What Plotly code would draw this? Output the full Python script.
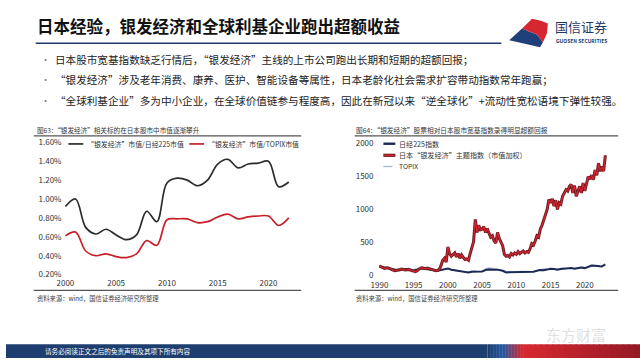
import plotly.graph_objects as go

# ---------------- data ----------------
left_years = list(range(2000, 2023))
silver_vs_n225 = [0.92, 1.00, 0.70, 0.63, 0.68, 0.62, 0.57, 0.62, 0.87, 0.76, 1.17, 1.22, 1.20,
                  1.14, 1.20, 1.37, 1.42, 1.33, 1.37, 1.38, 1.40, 1.13, 1.18]
silver_vs_topix = [0.61, 0.65, 0.45, 0.40, 0.42, 0.39, 0.38, 0.42, 0.56, 0.51, 0.78, 0.79, 0.79,
                   0.75, 0.76, 0.81, 0.84, 0.79, 0.81, 0.82, 0.82, 0.72, 0.80]
left_xticks = [2000, 2005, 2010, 2015, 2020]
left_yticks = [0.2, 0.4, 0.6, 0.8, 1.0, 1.2, 1.4, 1.6]

# right chart: quarterly theme index, half-yearly broad indices
theme_q = [140, 125, 120, 105, 110, 115, 100, 95, 80, 70, 75, 70, 85, 95, 85, 80,
           85, 90, 80, 75, 65, 55, 70, 95, 110, 115, 105, 100, 110, 100, 95, 80,
           75, 70, 75, 90, 150, 230, 260, 200, 430, 330, 290, 320, 340, 280, 330, 260,
           310, 270, 240, 250, 230, 330, 440, 510, 850, 650, 760, 690, 700, 740, 650, 710,
           640, 580, 600, 520, 490, 650, 560, 500, 450, 320, 290, 300, 280, 330, 310, 340,
           320, 360, 330, 350, 370, 340, 360, 350, 400, 480, 460, 520, 600, 580, 700, 760,
           830, 900, 1000, 1150, 1100, 1160, 1050, 1140, 1000, 1100, 1080, 1200,
           1240, 1300, 1280, 1350, 1380, 1250, 1360, 1200, 1280, 1350, 1250, 1400,
           1280, 1420, 1500, 1460, 1520, 1450, 1600, 1520, 1700, 1580, 1650, 1580, 1820]
theme_x = [1990 + i * 0.25 for i in range(len(theme_q))]

n225_h = [145, 120, 115, 105, 85, 80, 90, 95, 95, 90, 75, 85, 105, 100, 95, 85,
          80, 70, 80, 95, 105, 85, 75, 65, 65, 55, 45, 55, 60, 58, 60, 80,
          90, 85, 90, 80, 70, 45, 45, 55, 55, 50, 52, 45, 50, 55, 70, 80,
          78, 90, 100, 95, 85, 95, 100, 115, 110, 100, 105, 120, 110, 135,
          150, 145, 140, 135, 165]
topix_h = [150, 125, 120, 110, 85, 80, 95, 100, 105, 100, 85, 95, 110, 100, 95, 85,
           80, 70, 80, 95, 100, 85, 80, 70, 65, 55, 50, 62, 70, 72, 75, 100,
           110, 105, 110, 95, 80, 55, 55, 60, 62, 58, 58, 50, 55, 60, 80, 85,
           85, 100, 110, 105, 95, 105, 110, 125, 120, 105, 110, 125, 110, 135,
           150, 145, 145, 140, 160]
half_x = [1990 + i * 0.5 for i in range(len(n225_h))]
right_xticks = [1990, 1995, 2000, 2005, 2010, 2015, 2020]
right_yticks = [0, 500, 1000, 1500, 2000]

W, H = 640, 361
FONT = "Noto Sans CJK SC"


def px(x):
    return x / W


def py(y):
    return 1 - y / H


fig = go.Figure()

# left chart
fig.add_trace(go.Scatter(x=left_years, y=silver_vs_n225, mode="lines", line=dict(color="#2b2b2b", width=1.7, shape="spline"),
                         xaxis="x", yaxis="y", showlegend=False))
fig.add_trace(go.Scatter(x=left_years, y=silver_vs_topix, mode="lines", line=dict(color="#c8202a", width=1.7, shape="spline"),
                         xaxis="x", yaxis="y", showlegend=False))

# right chart
fig.add_trace(go.Scatter(x=half_x, y=topix_h, mode="lines", line=dict(color="#a9b9d6", width=1.5, dash="dash"),
                         xaxis="x2", yaxis="y2", showlegend=False))
fig.add_trace(go.Scatter(x=half_x, y=n225_h, mode="lines", line=dict(color="#1b2a55", width=2),
                         xaxis="x2", yaxis="y2", showlegend=False))
fig.add_trace(go.Scatter(x=theme_x, y=theme_q, mode="lines", line=dict(color="#6e1a22", width=3.0),
                         xaxis="x2", yaxis="y2", showlegend=False))
fig.add_trace(go.Scatter(x=theme_x, y=theme_q, mode="lines", line=dict(color="#d3262f", width=1.2),
                         xaxis="x2", yaxis="y2", showlegend=False))

tickfont = dict(family=FONT, size=8, color="#333")
axcommon = dict(showgrid=False, zeroline=False, showline=False, ticks="", tickfont=tickfont)

fig.update_layout(
    width=W, height=H, margin=dict(l=0, r=0, t=0, b=0),
    paper_bgcolor="white", plot_bgcolor="rgba(0,0,0,0)",
    font=dict(family=FONT),
    xaxis=dict(domain=[px(57), px(291)], range=[1999.71, 2022.54], tickvals=left_xticks, anchor="y", **axcommon),
    yaxis=dict(domain=[py(278), py(139)], range=[0.179, 1.621], tickvals=left_yticks,
               ticktext=[f"{v:.2f}%" for v in left_yticks], anchor="x", **axcommon),
    xaxis2=dict(domain=[px(372), px(610)], range=[1989.28, 2023.72], tickvals=right_xticks, anchor="y2",
                ticklabelstandoff=1, **axcommon),
    yaxis2=dict(domain=[py(279), py(140)], range=[-34, 2034], tickvals=right_yticks, anchor="x2", **axcommon),
)

shapes = []
annotations = []


def text(x, y, s, size, color="#333", anchor="left", bold=False):
    annotations.append(dict(xref="paper", yref="paper", x=px(x), y=py(y), text=(f"<b>{s}</b>" if bold else s),
                            showarrow=False, xanchor=anchor, yanchor="middle",
                            font=dict(family=FONT, size=size, color=color)))


def hline(x0, x1, y, color, width, dash=None):
    shapes.append(dict(type="line", xref="paper", yref="paper", x0=px(x0), x1=px(x1), y0=py(y), y1=py(y),
                       line=dict(color=color, width=width, dash=dash)))


# header
text(29, 22, "日本经验，银发经济和全球利基企业跑出超额收益", 16.5, "#111", bold=True)
hline(30, 500, 40, "#1f3a68", 1.6)

# logo
def poly(points, color):
    d = "M " + " L ".join(f"{px(a):.5f},{py(b):.5f}" for a, b in points) + " Z"
    shapes.append(dict(type="path", xref="paper", yref="paper", path=d, fillcolor=color, line=dict(width=0)))

poly([(508, 37), (521, 25), (528, 28), (536, 31), (542, 39), (539, 44), (526, 41)], "#1f3f7a")
poly([(521, 25), (531, 15), (540, 17), (547, 20), (546, 30), (542, 39), (536, 31), (528, 28)], "#d6262f")
text(552, 23, "国信证券", 13, "#1f3a68")
text(553, 37.5, "<b>GUOSEN SECURITIES</b>", 5, "#1f3a68")

# bullets
bullets = [
    "日本股市宽基指数缺乏行情后，“银发经济”主线的上市公司跑出长期和短期的超额回报；",
    "“银发经济”涉及老年消费、康养、医护、智能设备等属性，日本老龄化社会需求扩容带动指数常年跑赢；",
    "“全球利基企业”多为中小企业，在全球价值链参与程度高，因此在新冠以来“逆全球化”+流动性宽松语境下弹性较强。",
]
for i, b in enumerate(bullets):
    yy = 57 + i * 20.5
    text(33, yy, "•", 9, "#777")
    text(47, yy, b, 10.6, "#222")

# chart titles and frames
text(29, 128, "图63：“银发经济”相关标的在日本股市中市值逐渐攀升", 6.6, "#333")
text(351, 128, "图64：“银发经济”股票相对日本股市宽基指数录得明显超额回报", 6.7, "#333")
hline(28, 298, 134.5, "#555", 1.1)
hline(352, 618, 134.5, "#555", 1.1)
hline(28, 298, 292, "#555", 1.1)
hline(352, 618, 292, "#555", 1.1)
text(29, 300, "资料来源：wind，国信证券经济研究所整理", 6.3, "#444")
text(351, 300, "资料来源：wind，国信证券经济研究所整理", 6.3, "#444")

# left legend
hline(63, 78, 142.7, "#2b2b2b", 1.7)
text(80, 142.7, "“银发经济”市值/日经225市值", 6.9, "#333")
hline(185, 200, 142.7, "#c8202a", 1.7)
text(202, 142.7, "“银发经济”市值/TOPIX市值", 6.9, "#333")

# right legend
hline(381, 393, 142.5, "#1b2a55", 2.4)
text(395, 142.5, "日经225指数", 7.1, "#333")
hline(381, 393, 154.3, "#6e1a22", 3.2)
hline(381, 393, 154.3, "#d3262f", 1.3)
text(395, 154.3, "日本“银发经济”主题指数（市值加权）", 7.1, "#333")
hline(381, 393, 165.7, "#a9b9d6", 1.4, "dash")
text(395, 165.7, "TOPIX", 6.8, "#333")

# watermark
text(543, 337, "东方财富", 15, "rgba(210,210,210,0.7)")

# footer band with gradient
def lerp(c1, c2, t):
    return "#" + "".join(f"{int(round(a + (b - a) * t)):02x}" for a, b in zip(c1, c2))

navy = (29, 62, 110)
blue = (40, 88, 160)
red = (214, 40, 48)
dred = (150, 26, 38)
shapes.append(dict(type="rect", xref="paper", yref="paper", x0=0, x1=px(486), y0=0, y1=py(347),
                   fillcolor="#1d3e6e", line=dict(width=0)))
segs = []
for i in range(10):
    segs.append((486 + i * 1.5, 486 + (i + 1) * 1.5, lerp(navy, blue, i / 9)))
for i in range(14):
    segs.append((501 + i * 1.5, 501 + (i + 1) * 1.5, lerp(blue, red, i / 13)))
for i in range(20):
    segs.append((522 + i * 5.9, 522 + (i + 1) * 5.9 + 0.5, lerp(red, dred, i / 19)))
for x0, x1, c in segs:
    shapes.append(dict(type="rect", xref="paper", yref="paper", x0=px(x0), x1=min(1, px(x1 + 0.4)), y0=0, y1=py(347),
                       fillcolor=c, line=dict(width=0)))
text(37, 354, "请务必阅读正文之后的免责声明及其项下所有内容", 6.6, "#ffffff")

fig.update_layout(shapes=shapes, annotations=annotations)
fig.write_html("out.html", config={"displayModeBar": False},
               post_script="document.body.style.margin='0';document.body.style.overflow='hidden';")
